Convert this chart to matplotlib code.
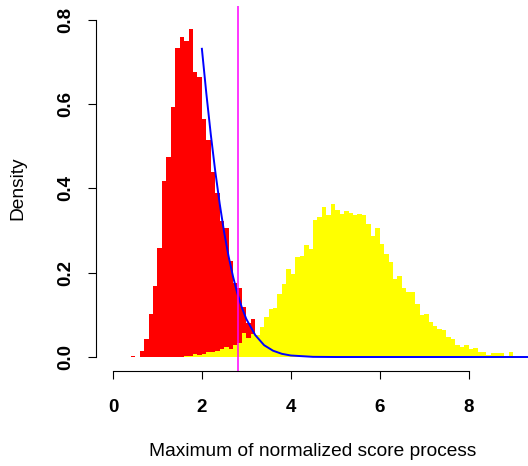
import matplotlib
matplotlib.use("Agg")
import matplotlib.pyplot as plt

# histogram bins are 0.1 wide; values are densities
red_start = 0.4
red_density = [0.003, 0.0, 0.014, 0.043, 0.102, 0.168, 0.259, 0.417, 0.474, 0.593,
               0.733, 0.759, 0.750, 0.778, 0.676, 0.664, 0.565, 0.515, 0.439, 0.389,
               0.323, 0.306, 0.228, 0.176, 0.164, 0.119, 0.081, 0.090, 0.052, 0.035,
               0.038, 0.021, 0.021, 0.017, 0.012, 0.008, 0.004, 0.009, 0.003, 0.005]

yellow_start = 1.6
yellow_density = [0.002, 0.002, 0.007, 0.004, 0.006, 0.013, 0.013, 0.015, 0.019, 0.024,
                  0.020, 0.028, 0.033, 0.057, 0.045, 0.055, 0.052, 0.072, 0.095, 0.115,
                  0.117, 0.149, 0.172, 0.208, 0.196, 0.237, 0.240, 0.266, 0.256, 0.325,
                  0.332, 0.356, 0.337, 0.363, 0.349, 0.339, 0.346, 0.342, 0.337, 0.339,
                  0.337, 0.315, 0.287, 0.306, 0.268, 0.244, 0.225, 0.185, 0.192, 0.164,
                  0.154, 0.154, 0.126, 0.100, 0.102, 0.083, 0.074, 0.066, 0.064, 0.047,
                  0.043, 0.028, 0.024, 0.028, 0.019, 0.021, 0.012, 0.012, 0.005, 0.009,
                  0.009, 0.009, 0.002, 0.012]

bin_width = 0.1

# limiting density curve
curve_x = [2.0, 2.1, 2.2, 2.3, 2.4, 2.5, 2.6, 2.7, 2.8, 2.9, 3.0, 3.2, 3.4, 3.6,
           3.8, 4.0, 4.5, 5.0, 6.0, 7.0, 8.0, 9.0, 9.5]
curve_y = [0.731, 0.625, 0.528, 0.441, 0.364, 0.296, 0.239, 0.191, 0.150, 0.117,
           0.090, 0.052, 0.028, 0.015, 0.0075, 0.0036, 0.0004, 0.0, 0.0, 0.0,
           0.0, 0.0, 0.0]

threshold = 2.81

x_ticks = [0, 2, 4, 6, 8]
y_ticks = [0.0, 0.2, 0.4, 0.6, 0.8]

plt.rcParams['font.family'] = ['Liberation Sans', 'DejaVu Sans']

fig = plt.figure(figsize=(5.28, 4.66), dpi=100)
ax = fig.add_axes([96 / 528, (466 - 370.5) / 466, 432 / 528, 364.5 / 466])

red_left = [red_start + i * bin_width for i in range(len(red_density))]
yellow_left = [yellow_start + i * bin_width for i in range(len(yellow_density))]

ax.bar(red_left, red_density, width=bin_width, align='edge', color='#ff0000',
       linewidth=0, antialiased=False)
ax.bar(yellow_left, yellow_density, width=bin_width, align='edge', color='#ffff00',
       linewidth=0, antialiased=False)
ax.plot(curve_x, curve_y, color='#0000ff', linewidth=1.4)
ax.axvline(threshold, color='#ff00ff', linewidth=1.1)

ax.set_xlim(-0.382, 9.336)
ax.set_ylim(-0.032, 0.8325)

for side in ['top', 'right']:
    ax.spines[side].set_visible(False)
ax.spines['bottom'].set_bounds(0, 8)
ax.spines['left'].set_bounds(0, 0.8)
for side in ['bottom', 'left']:
    ax.spines[side].set_linewidth(0.8)

ax.set_xticks(x_ticks)
ax.set_xticklabels([str(t) for t in x_ticks], fontsize=13.5, fontweight='bold')
ax.set_yticks(y_ticks)
ax.set_yticklabels(['%.1f' % t for t in y_ticks], fontsize=13.5, fontweight='bold',
                   rotation=90, va='center')
ax.tick_params(axis='x', direction='out', length=5.5, width=0.8, pad=15)
ax.tick_params(axis='y', direction='out', length=5.5, width=0.8, pad=10)

ax.set_xlabel('Maximum of normalized score process', fontsize=13.8)
ax.xaxis.set_label_coords(0.502, -(452 - 370.5) / 364.5)
ax.set_ylabel('Density', fontsize=13.8)
ax.yaxis.set_label_coords(-(96 - 18) / 432, 0.5)
ax.xaxis.label.set_va('center')
ax.yaxis.label.set_va('center')

fig.savefig('out.png', dpi=100)
